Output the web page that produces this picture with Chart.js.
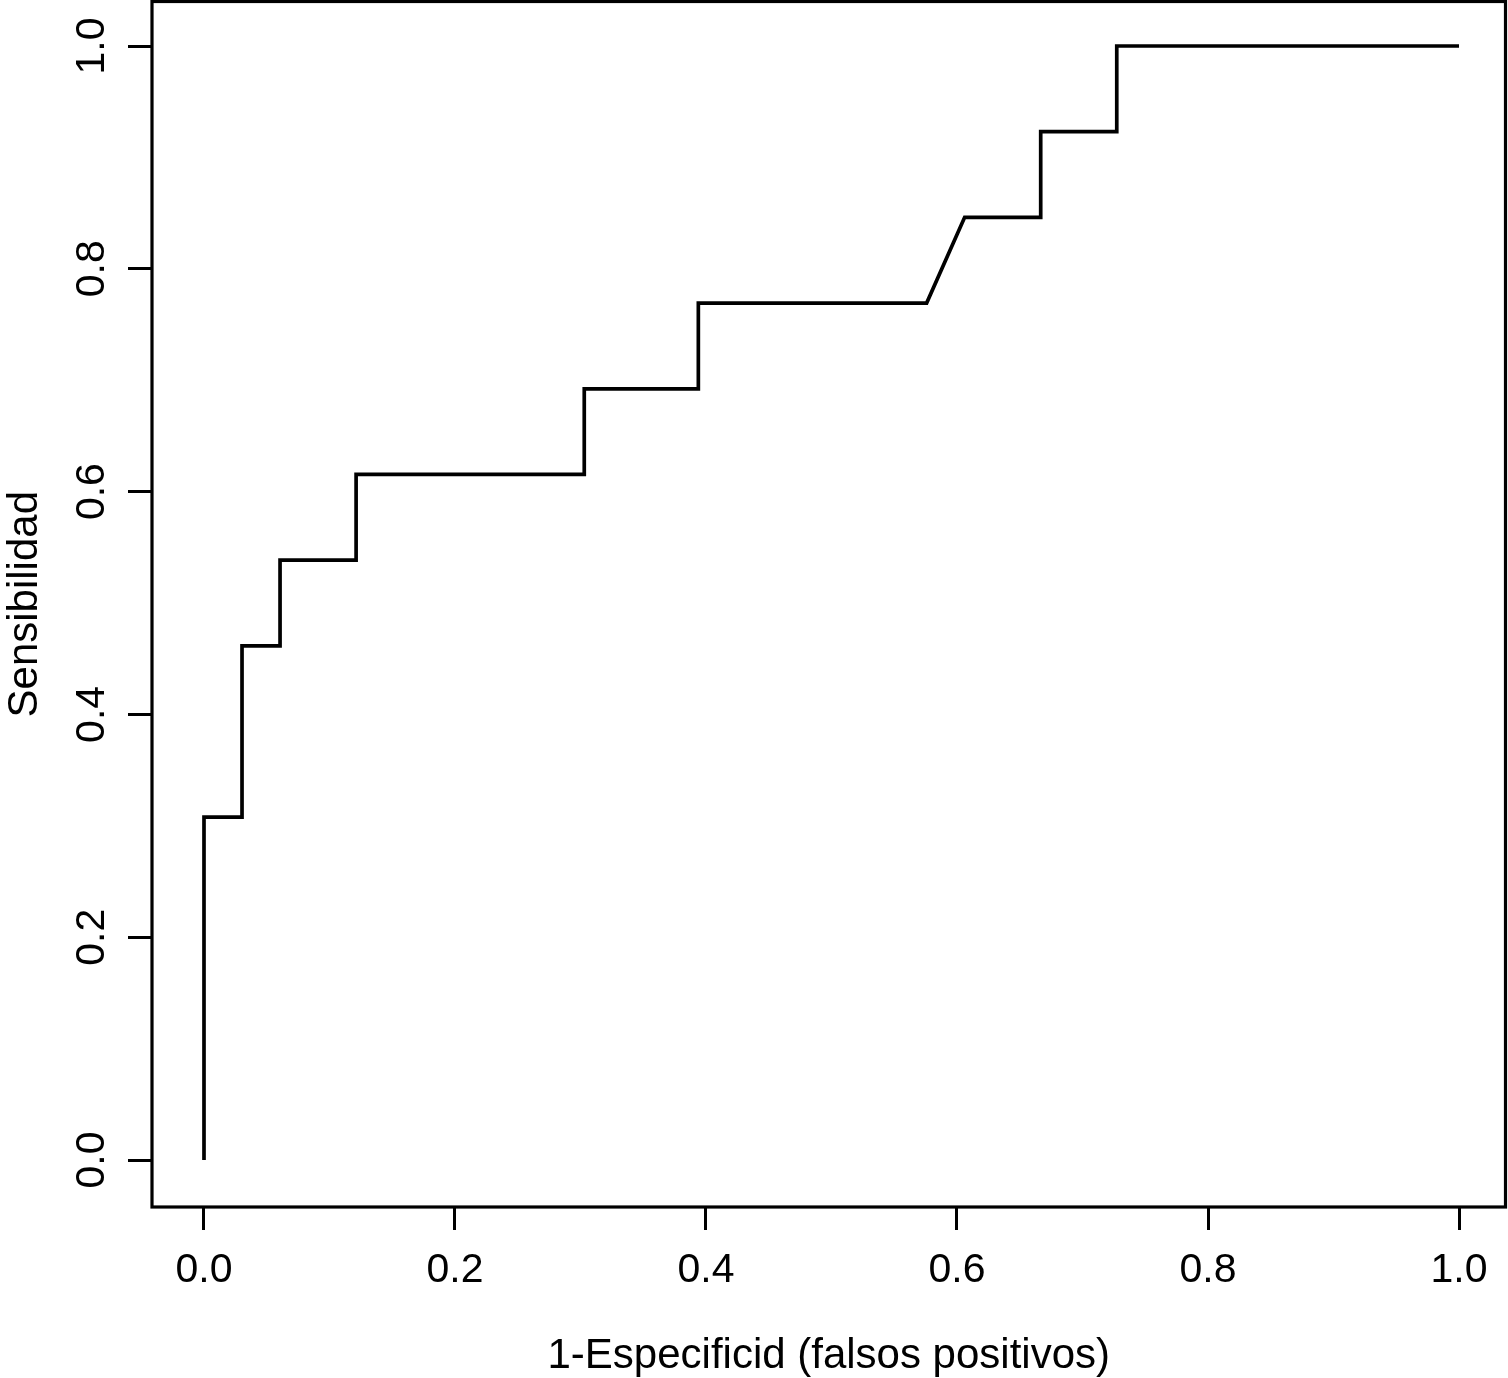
<!DOCTYPE html>
<html>
<head>
<meta charset="utf-8">
<script src="https://cdn.jsdelivr.net/npm/chart.js@4/dist/chart.umd.min.js"></script>
<style>
  html, body { margin: 0; padding: 0; background: #fff; }
  #wrap { width: 1508px; height: 1378px; }
</style>
</head>
<body>
<div id="wrap"><canvas id="rocChart" width="1508" height="1378"></canvas></div>
<script>
// --- ROC curve data ---
const falsosPositivos = [0, 0, 0.0303, 0.0303, 0.0606, 0.0606, 0.1212, 0.1212, 0.3030, 0.3030,
                         0.3939, 0.3939, 0.5758, 0.6061, 0.6667, 0.6667, 0.7273, 0.7273, 1.0];
const sensibilidad    = [0, 0.3077, 0.3077, 0.4615, 0.4615, 0.5385, 0.5385, 0.6154, 0.6154, 0.6923,
                         0.6923, 0.7692, 0.7692, 0.8462, 0.8462, 0.9231, 0.9231, 1.0, 1.0];
const xTicks = [0, 0.2, 0.4, 0.6, 0.8, 1.0];
const yTicks = [0, 0.2, 0.4, 0.6, 0.8, 1.0];
const xLabel = '1-Especificid (falsos positivos)';
const yLabel = 'Sensibilidad';

const FONT = '"Liberation Sans", Arial, Helvetica, sans-serif';

// box around the plot region (R style)
const boxPlugin = {
    id: 'box',
    afterDraw(chart) {
        const { ctx, chartArea: a } = chart;
        ctx.save();
        ctx.strokeStyle = '#000';
        ctx.lineWidth = 3.2;
        ctx.strokeRect(a.left, a.top, a.right - a.left, a.bottom - a.top);
        ctx.restore();
    }
};

const points = falsosPositivos.map((x, i) => ({ x: x, y: sensibilidad[i] }));

new Chart(document.getElementById('rocChart').getContext('2d'), {
    type: 'scatter',
    data: {
        datasets: [{
            data: points,
            showLine: true,
            borderColor: '#000',
            backgroundColor: '#000',
            borderWidth: 3.7,
            pointRadius: 0,
            tension: 0,
            borderJoinStyle: 'miter'
        }]
    },
    options: {
        responsive: false,
        animation: false,
        layout: { padding: { top: 1.5, right: 2.5, bottom: 0, left: 0 } },
        plugins: {
            legend: { display: false },
            tooltip: { enabled: false }
        },
        scales: {
            x: {
                type: 'linear',
                position: 'bottom',
                min: -0.04143,
                max: 1.03705,
                afterBuildTicks: (s) => { s.ticks = xTicks.map(v => ({ value: v })); },
                afterFit: (s) => { s.height = 171; s.paddingLeft = 0; s.paddingRight = 0; },
                border: { display: false },
                grid: { drawOnChartArea: false, drawTicks: true, tickLength: 23, tickWidth: 3, tickColor: '#000' },
                ticks: {
                    color: '#000',
                    font: { family: FONT, size: 41 },
                    padding: 16,
                    maxRotation: 0,
                    minRotation: 0,
                    callback: (v) => Number(v).toFixed(1)
                },
                title: {
                    display: true,
                    text: xLabel,
                    color: '#000',
                    font: { family: FONT, size: 42, lineHeight: 1.0 },
                    padding: { top: 0, bottom: 1 }
                }
            },
            y: {
                type: 'linear',
                position: 'left',
                min: -0.04219,
                max: 1.03995,
                afterBuildTicks: (s) => { s.ticks = yTicks.map(v => ({ value: v })); },
                afterFit: (s) => { s.width = 152; s.paddingTop = 0; s.paddingBottom = 0; },
                border: { display: false },
                grid: { drawOnChartArea: false, drawTicks: true, tickLength: 24, tickWidth: 3, tickColor: '#000' },
                ticks: {
                    color: '#000',
                    font: { family: FONT, size: 41 },
                    padding: 7,
                    minRotation: 90,
                    maxRotation: 90,
                    crossAlign: 'center',
                    callback: (v) => Number(v).toFixed(1)
                },
                title: {
                    display: true,
                    text: yLabel,
                    color: '#000',
                    font: { family: FONT, size: 42, lineHeight: 1.0 },
                    padding: { top: 4, bottom: 0 }
                }
            }
        }
    },
    plugins: [boxPlugin]
});
</script>
</body>
</html>
